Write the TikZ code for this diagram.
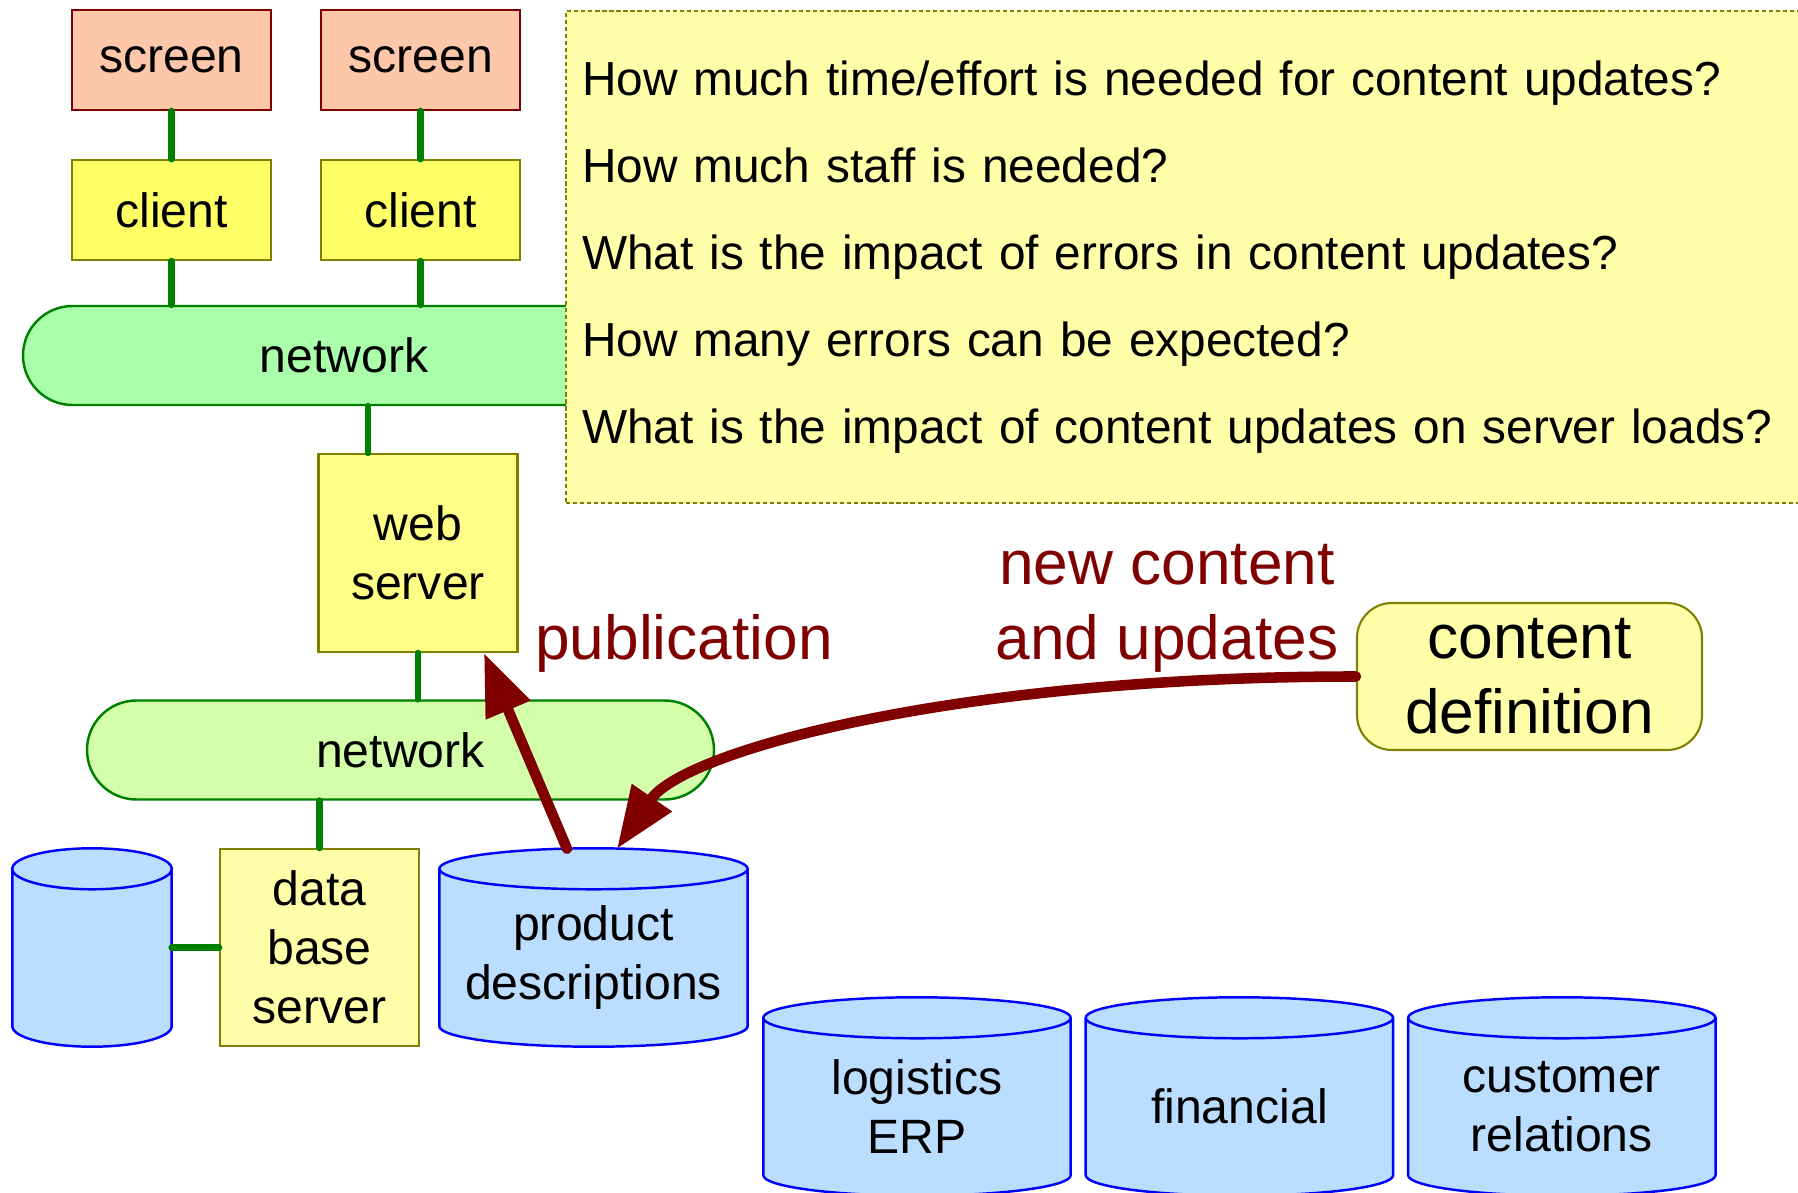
\documentclass[tikz,border=0pt]{standalone}
\usepackage{fontspec}
\setmainfont{Liberation Sans}
\usetikzlibrary{shapes.misc,arrows.meta,positioning,calc,backgrounds}
\definecolor{salmon}{RGB}{255,199,170}
\definecolor{maroon}{RGB}{128,0,0}
\definecolor{lemon}{RGB}{255,255,102}
\definecolor{straw}{RGB}{255,255,136}
\definecolor{cream}{RGB}{255,255,170}
\definecolor{olivebd}{RGB}{128,128,0}
\definecolor{mint}{RGB}{170,255,170}
\definecolor{lime}{RGB}{212,255,170}
\definecolor{leaf}{RGB}{0,128,0}
\definecolor{sky}{RGB}{187,221,255}

\begin{document}
\begin{tikzpicture}
	[every node/.style={font=\fontsize{13.7}{16.8}\selectfont,align=center,inner sep=0pt},
	unitbox/.style={rectangle,draw,line width=0.6pt,minimum width=1.99cm},
	screenbox/.style={unitbox,fill=salmon,draw=maroon,minimum height=1cm},
	clientbox/.style={unitbox,fill=lemon,draw=olivebd,minimum height=1cm},
	serverbox/.style={unitbox,draw=olivebd,minimum height=1.98cm},
	netbar/.style={rounded rectangle,draw=leaf,line width=0.7pt,minimum height=0.99cm},
	storebody/.style={rectangle,minimum height=1.765cm},
	storeline/.style={draw=blue,fill=sky,line width=0.7pt},
	qbox/.style={rectangle,fill=cream,draw=olivebd,line width=0.6pt,dash pattern=on 1.2pt off 0.8pt,
		minimum width=12.8cm,minimum height=4.92cm,text width=12.5cm,align=left,inner xsep=0.16cm,
		font=\fontsize{13.6}{24.7}\selectfont},
	link/.style={draw=leaf,line width=1.9pt,line cap=round},
	flow/.style={draw=maroon,line width=3pt,line cap=round,-{Triangle[length=6.2mm,width=4.6mm]}},
	note/.style={text=maroon,font=\fontsize{17.7}{21.3}\selectfont}]
	\useasboundingbox (0,0) rectangle (17.98,-11.93);
	\node[netbar,fill=mint,minimum width=6.42cm] (net1) at (3.44,-3.555) {network};
	\node[screenbox] (scr1) at (1.715,-0.60) {screen};
	\node[screenbox,right=0.48cm of scr1] (scr2) {screen};
	\node[clientbox,below=0.48cm of scr1] (cli1) {client};
	\node[clientbox,below=0.48cm of scr2] (cli2) {client};
	\node[qbox,anchor=north west] (quest) at (5.65,-0.10) {How much time/effort is needed for content updates?\\
		How much staff is needed?\\
		What is the impact of errors in content updates?\\
		How many errors can be expected?\\
		What is the impact of content updates on server loads?};
	\node[serverbox,fill=straw] (web) at (4.18,-5.53) {web\\server};
	\node[netbar,fill=lime,minimum width=6.27cm] (net2) at (4.005,-7.50) {network};
	\node[serverbox,fill=cream,minimum height=1.97cm] (dbs) at (3.195,-9.475) {data\\base\\server};
	\node[storebody,minimum width=1.58cm] (arch) at (0.92,-9.5775) {};
	\node[storebody,minimum width=3.07cm] (prod) at (5.935,-9.5775) {product\\descriptions};
	\node[storebody,minimum width=3.06cm] (erp) at (9.17,-11.0675) {logistics\\ERP};
	\node[storebody,minimum width=3.06cm,right=0.15cm of erp] (fin) {financial};
	\node[storebody,minimum width=3.06cm,right=0.15cm of fin] (crm) {customer\\relations};
	\node[rectangle,rounded corners=0.35cm,draw=olivebd,fill=cream,line width=0.6pt,minimum width=3.45cm,
		minimum height=1.47cm,font=\fontsize{17.7}{21.3}\selectfont] (cdef) at (15.295,-6.765) {content\\definition};
	\node[note] (pub) at (6.84,-6.43) {publication};
	\node[note] (upd) at (11.67,-6.08) {new content\\and updates};
	\begin{scope}[on background layer]
		\foreach \c in {arch,prod,erp,fin,crm}
			\draw[storeline] let \p1=(\c.north west),\p2=(\c.south east),\n1={0.5*(\x2-\x1)} in
				(\x1,\y1) -- (\x1,\y2+0.205cm) arc[start angle=180,end angle=360,x radius={\n1*1pt},y radius=0.205cm]
				-- (\x2,\y1) arc[start angle=0,end angle=180,x radius={\n1*1pt},y radius=0.205cm]
				arc[start angle=180,end angle=360,x radius={\n1*1pt},y radius=0.205cm];
	\end{scope}
	\draw[link] (scr1) -- (cli1);
	\draw[link] (scr2) -- (cli2);
	\draw[link] (cli1) -- (cli1.south |- net1.north);
	\draw[link] (cli2) -- (cli2.south |- net1.north);
	\draw[link] ([xshift=-0.5cm]web.north) -- ([xshift=-0.5cm]web.north |- net1.south);
	\draw[link] (web) -- (web.south |- net2.north);
	\draw[link] (dbs) -- (dbs.north |- net2.south);
	\draw[link] (dbs.west) -- (dbs.west -| arch.east);
	\draw[flow] ([xshift=-0.265cm,yshift=0.2cm]prod.north) -- ([xshift=0.66cm]web.south);
	\draw[flow] (cdef.west) .. controls +(-4,0) and +(0.67,0.98) .. ([xshift=0.235cm,yshift=0.2cm]prod.north);
\end{tikzpicture}
\end{document}
